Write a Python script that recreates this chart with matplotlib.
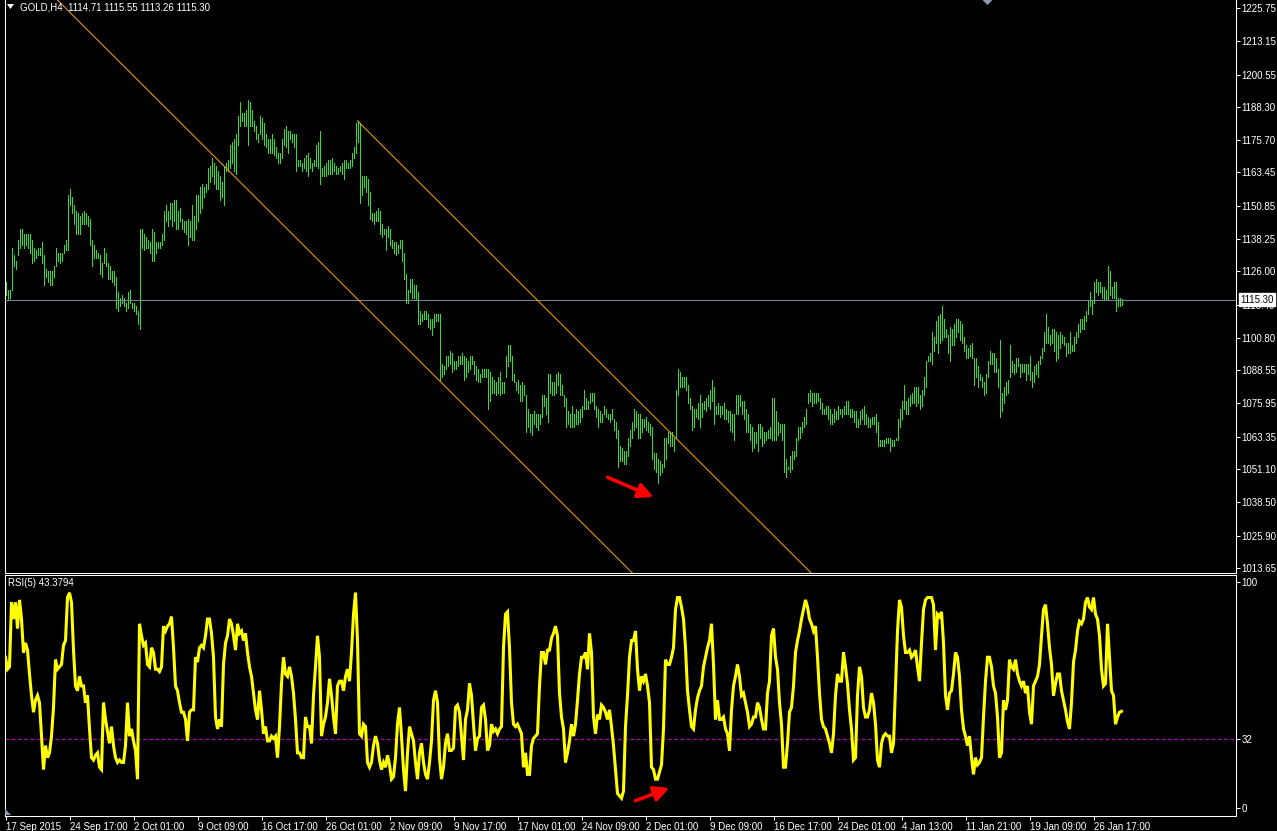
import matplotlib
matplotlib.use("Agg")
import matplotlib.pyplot as plt
import matplotlib.transforms as mtransforms
from matplotlib.patches import Polygon
import numpy as np

# ---------------- data ----------------
SYMBOL = "GOLD,H4"
LAST_OHLC = [1114.71, 1115.55, 1113.26, 1115.30]

HIGH = [
1122,1119,1119,1135,1132,1130,1138,1142,1142,1140,
1140,1140,1140,1138,1135,1134,1135,1135,1137,1132,
1127,1126,1126,1126,1128,1135,1133,1133,1133,1136,
1138,1155,1157,1154,1151,1149,1148,1147,1148,1149,
1148,1147,1146,1138,1136,1134,1133,1132,1129,1135,
1133,1129,1128,1126,1126,1124,1118,1116,1117,1116,
1114,1118,1119,1114,1114,1113,1111,1142,1142,1140,
1139,1138,1137,1142,1141,1137,1137,1137,1140,1149,
1151,1149,1152,1152,1153,1153,1149,1150,1146,1145,
1145,1146,1145,1151,1147,1155,1155,1158,1159,1158,
1159,1165,1166,1169,1167,1166,1164,1162,1160,1166,
1167,1168,1174,1175,1176,1178,1185,1190,1186,1186,
1187,1191,1190,1187,1183,1181,1178,1185,1184,1182,
1178,1176,1176,1178,1176,1173,1171,1171,1176,1180,
1181,1179,1179,1178,1178,1178,1168,1168,1167,1169,
1170,1171,1169,1167,1168,1174,1175,1179,1165,1166,
1167,1168,1168,1169,1167,1166,1165,1166,1167,1168,
1168,1167,1168,1171,1173,1182,1183,1182,1162,1162,
1162,1161,1156,1148,1148,1149,1150,1149,1144,1142,
1142,1143,1142,1138,1137,1137,1136,1138,1138,1133,
1125,1119,1123,1123,1121,1121,1118,1111,1110,1111,
1111,1110,1108,1108,1110,1110,1110,1110,1091,1090,
1094,1094,1096,1095,1092,1092,1094,1094,1095,1094,
1093,1092,1094,1094,1092,1090,1089,1087,1089,1089,
1089,1089,1088,1086,1085,1084,1086,1088,1084,1084,
1094,1098,1098,1094,1087,1084,1085,1083,1084,1083,
1079,1074,1072,1072,1073,1072,1072,1072,1079,1079,
1078,1087,1087,1084,1084,1087,1088,1087,1083,1079,
1078,1073,1072,1075,1072,1074,1073,1074,1075,1081,
1078,1077,1080,1080,1080,1075,1074,1073,1072,1075,
1074,1072,1072,1074,1070,1069,1066,1060,1059,1058,
1058,1063,1066,1069,1074,1073,1072,1072,1070,1070,
1071,1069,1068,1067,1057,1057,1055,1054,1053,1063,
1063,1065,1065,1065,1063,1081,1089,1088,1086,1086,
1086,1083,1078,1075,1074,1074,1076,1079,1076,1077,
1078,1079,1081,1085,1082,1075,1076,1075,1075,1076,
1074,1073,1073,1072,1072,1079,1079,1079,1077,1077,
1074,1072,1068,1067,1065,1065,1068,1068,1067,1065,
1065,1066,1067,1078,1078,1073,1069,1068,1068,1068,
1055,1052,1056,1058,1058,1063,1067,1067,1069,1071,
1074,1080,1081,1080,1080,1080,1080,1078,1076,1074,
1075,1075,1074,1072,1074,1073,1075,1074,1074,1075,
1077,1077,1074,1074,1073,1073,1070,1073,1074,1075,
1072,1071,1070,1071,1071,1072,1069,1062,1062,1062,
1063,1063,1063,1062,1062,1063,1070,1074,1077,1083,
1077,1078,1079,1080,1082,1082,1082,1079,1081,1086,
1092,1094,1095,1103,1101,1107,1109,1110,1113,1108,
1104,1102,1105,1104,1106,1108,1108,1107,1106,1101,
1098,1097,1098,1099,1093,1093,1090,1087,1086,1084,
1087,1092,1096,1095,1095,1093,1089,1100,1080,1082,
1084,1085,1098,1092,1091,1093,1093,1091,1091,1091,
1091,1091,1094,1088,1090,1091,1092,1094,1097,1103,
1110,1105,1102,1104,1104,1103,1102,1103,1102,1101,
1099,1099,1103,1098,1101,1103,1106,1108,1108,1109,
1111,1115,1118,1115,1122,1123,1122,1122,1120,1120,
1119,1128,1126,1120,1122,1122,1116,1116,1115.55,
]

LOW = [
1117,1115,1116,1119,1128,1127,1132,1135,1136,1135,
1136,1135,1133,1129,1130,1131,1132,1132,1129,1121,
1124,1122,1121,1121,1124,1128,1130,1129,1130,1133,
1134,1134,1151,1148,1144,1140,1140,1140,1144,1144,
1144,1143,1136,1128,1131,1131,1131,1125,1124,1129,
1128,1123,1123,1122,1121,1112,1111,1113,1114,1113,
1111,1112,1114,1112,1111,1110,1106,1104,1135,1134,
1135,1135,1133,1130,1130,1133,1135,1135,1136,1138,
1145,1143,1146,1143,1145,1142,1142,1145,1142,1141,
1140,1136,1139,1138,1138,1142,1145,1148,1150,1154,
1156,1157,1160,1162,1159,1157,1157,1153,1154,1151,
1164,1164,1165,1167,1164,1163,1174,1181,1183,1181,
1181,1174,1181,1181,1179,1176,1175,1178,1176,1174,
1173,1171,1171,1171,1170,1169,1167,1167,1169,1174,
1173,1171,1176,1175,1173,1164,1166,1166,1164,1165,
1164,1162,1165,1164,1166,1166,1165,1159,1162,1162,
1162,1163,1163,1163,1164,1163,1163,1164,1163,1161,
1165,1165,1165,1166,1169,1171,1175,1152,1155,1158,
1156,1151,1146,1145,1144,1145,1145,1140,1139,1140,
1134,1139,1136,1135,1133,1132,1133,1135,1130,1123,
1114,1114,1118,1116,1116,1115,1106,1106,1107,1108,
1108,1105,1104,1102,1105,1107,1107,1085,1086,1087,
1089,1090,1091,1088,1089,1089,1090,1091,1091,1085,
1086,1088,1089,1091,1087,1085,1084,1084,1086,1086,
1086,1074,1077,1080,1080,1079,1080,1079,1080,1080,
1086,1090,1092,1085,1084,1081,1080,1077,1077,1079,
1065,1067,1065,1064,1068,1067,1066,1068,1071,1075,
1072,1069,1080,1079,1079,1080,1083,1079,1079,1075,
1067,1068,1067,1067,1067,1068,1068,1069,1071,1074,
1074,1074,1076,1077,1074,1071,1067,1069,1069,1072,
1071,1070,1069,1070,1066,1063,1052,1054,1054,1053,
1053,1056,1060,1063,1066,1067,1063,1063,1065,1067,
1066,1065,1064,1055,1051,1050,1046,1049,1050,1052,
1055,1061,1060,1060,1058,1063,1079,1082,1082,1082,
1081,1076,1074,1066,1067,1071,1070,1067,1071,1074,
1073,1075,1074,1077,1068,1072,1072,1071,1072,1070,
1070,1069,1066,1065,1062,1072,1072,1075,1072,1070,
1065,1065,1062,1058,1059,1061,1058,1063,1060,1061,
1062,1063,1063,1062,1062,1062,1064,1065,1062,1050,
1048,1051,1050,1051,1055,1056,1062,1063,1065,1067,
1068,1076,1077,1075,1076,1076,1077,1074,1072,1072,
1072,1070,1068,1068,1069,1070,1070,1072,1071,1072,
1072,1072,1071,1071,1069,1067,1067,1068,1070,1068,
1068,1067,1067,1068,1068,1065,1060,1060,1060,1060,
1061,1061,1058,1060,1060,1062,1062,1067,1070,1074,
1072,1072,1075,1076,1076,1075,1076,1074,1075,1079,
1082,1092,1092,1091,1096,1099,1095,1099,1100,1101,
1101,1095,1092,1098,1098,1101,1103,1100,1099,1096,
1093,1093,1094,1093,1083,1086,1082,1085,1082,1079,
1080,1086,1091,1091,1088,1088,1082,1071,1073,1076,
1079,1080,1086,1088,1087,1088,1090,1086,1088,1088,
1085,1087,1085,1082,1084,1087,1086,1091,1093,1096,
1099,1099,1098,1099,1096,1092,1093,1097,1099,1098,
1094,1095,1095,1096,1096,1099,1101,1103,1104,1104,
1107,1110,1113,1110,1114,1118,1117,1118,1116,1115,
1115,1115,1117,1116,1116,1111,1113,1113,1113.26,
]

RSI = [
66,61,62,89,82,89,78,90,82,68,
72,69,59,50,43,48,50,47,33,19,
29,24,26,33,45,65,61,62,63,71,
73,91,93,89,69,54,52,58,54,54,
47,50,36,24,23,25,26,20,19,47,
40,35,30,37,29,24,22,23,22,22,
29,47,33,36,31,27,15,80,75,71,
72,63,62,70,68,61,61,60,62,79,
77,79,80,83,70,54,52,47,43,43,
40,31,43,44,44,66,64,70,71,70,
75,82,82,76,66,41,36,40,37,63,
72,75,82,80,75,69,80,76,77,73,
76,68,62,58,51,44,40,52,44,34,
37,31,31,33,32,33,24,37,55,66,
59,58,62,58,51,40,26,26,24,24,
41,37,37,30,50,62,75,66,33,38,
41,47,57,50,41,34,54,56,56,52,
58,61,56,68,84,93,73,34,33,38,
37,22,20,22,29,33,30,23,19,22,
20,25,21,15,16,24,38,45,33,19,
10,26,37,34,31,22,15,26,30,22,
17,15,22,31,48,52,47,24,15,20,
30,34,27,27,28,45,46,43,33,23,
40,44,55,50,38,27,32,33,45,46,
40,27,29,38,35,36,34,36,37,70,
84,85,70,47,38,37,38,36,34,20,
26,17,17,29,32,33,34,54,68,68,
63,69,69,74,76,79,75,51,41,36,
22,26,31,38,33,38,48,59,66,66,
68,61,76,68,41,34,42,40,46,45,
43,40,44,37,29,19,9,8,7,10,
37,50,66,73,73,77,61,52,58,56,
59,54,47,20,19,15,15,18,21,36,
65,63,63,66,70,86,91,91,87,82,
70,52,44,37,36,44,49,52,54,62,
66,70,73,80,63,40,48,40,40,41,
36,34,27,44,54,58,63,58,50,51,
47,43,37,38,41,41,47,45,40,36,
36,51,56,75,78,66,61,47,38,20,
20,30,43,45,54,68,73,77,82,86,
90,87,82,80,77,79,66,51,40,37,
36,33,30,26,34,50,59,56,56,68,
62,55,44,36,23,24,50,62,58,45,
41,41,44,51,47,38,23,20,30,33,
34,33,33,26,30,54,77,90,87,75,
68,68,69,66,67,69,62,56,72,86,
90,91,91,91,88,69,84,83,85,72,
50,44,51,52,59,68,66,58,44,36,
33,29,33,24,17,24,21,22,24,41,
56,66,66,62,54,51,41,24,26,48,
44,48,65,62,61,65,59,56,54,56,
51,54,43,38,54,56,58,63,75,86,
88,80,70,63,50,55,59,59,52,48,
44,39,36,47,64,69,77,81,80,82,
89,91,87,86,91,84,82,75,61,54,
55,80,66,52,50,38,41,43,43.3794,
]

PRICE_TICKS = [1225.75, 1213.15, 1200.55, 1188.30, 1175.70, 1163.45, 1150.85,
               1138.25, 1126.00, 1113.40, 1100.80, 1088.55, 1075.95, 1063.35,
               1051.10, 1038.50, 1025.90, 1013.65]
TIME_LABELS = ["17 Sep 2015", "24 Sep 17:00", "2 Oct 01:00", "9 Oct 09:00",
               "16 Oct 17:00", "26 Oct 01:00", "2 Nov 09:00", "9 Nov 17:00",
               "17 Nov 01:00", "24 Nov 09:00", "2 Dec 01:00", "9 Dec 09:00",
               "16 Dec 17:00", "24 Dec 01:00", "4 Jan 13:00", "11 Jan 21:00",
               "19 Jan 09:00", "26 Jan 17:00"]
TIME_LABEL_BARS = [0, 32, 64, 96, 128, 160, 192, 224, 256, 288, 320, 352,
                   384, 416, 448, 480, 512, 544]
RSI_PERIOD = 5
RSI_LEVEL = 32
RSI_LABELS = ["100", "32", "0"]

# channel (drawn trend objects) anchored at a bar high
CHANNEL_ANCHOR_BAR = 176
CHANNEL_SLOPE = -0.755      # price per bar
CHANNEL_WIDTH = 67.5        # price distance between the two lines
ARROW_PRICE = [(301.0, 1048.0), (324.0, 1040.5)]
ARROW_RSI = [(315.0, 6.0), (332.0, 11.3)]

# ---------------- styling / layout ----------------
plt.rcParams['font.family'] = ['Liberation Sans', 'DejaVu Sans']
BAR_COLOR = '#2ee02e'
FS = 7.0
W, H = 1277, 831
PX_PER_PRICE = 2.64
PRICE_AT_TOP = 1228.78
RSI_PX = 2.39

fig = plt.figure(figsize=(W / 100, H / 100), dpi=100)
fig.patch.set_facecolor('black')


def rect(x0, y0, x1, y1):
    return [x0 / W, 1 - y1 / H, (x1 - x0) / W, (y1 - y0) / H]


X_LEFT, X_RIGHT = 4.5, 1235.5
xlim = ((X_LEFT - 5.5) / 2.0, (X_RIGHT - 5.5) / 2.0)

# ---- price panel ----
P_TOP, P_BOT = -0.5, 572.5
ax = fig.add_axes(rect(X_LEFT, P_TOP, X_RIGHT, P_BOT))
ax.set_facecolor('black')
ax.set_xlim(*xlim)
ax.set_ylim(PRICE_AT_TOP - P_BOT / PX_PER_PRICE, PRICE_AT_TOP - P_TOP / PX_PER_PRICE)

n = min(len(HIGH), len(LOW))
xs = np.arange(n)
ax.vlines(xs, np.array(LOW[:n]), np.array(HIGH[:n]), colors=BAR_COLOR,
          linewidth=0.6, antialiased=False, zorder=2)

ax.axhline(LAST_OHLC[3], color='#778899', lw=0.72, zorder=3)

# channel lines
a_price = HIGH[CHANNEL_ANCHOR_BAR]
xu = np.array([CHANNEL_ANCHOR_BAR, xlim[1]])
ax.plot(xu, a_price + CHANNEL_SLOPE * (xu - CHANNEL_ANCHOR_BAR), color='#ffa500',
        lw=0.72, zorder=4)
xl = np.array([xlim[0], xlim[1]])
ax.plot(xl, a_price - CHANNEL_WIDTH + CHANNEL_SLOPE * (xl - CHANNEL_ANCHOR_BAR),
        color='#ffa500', lw=0.72, zorder=4)

ax.annotate('', xy=ARROW_PRICE[1], xytext=ARROW_PRICE[0],
            arrowprops=dict(arrowstyle='-|>,head_length=0.9,head_width=0.45',
                            color='#ff0000', lw=2.6, shrinkA=0, shrinkB=0),
            zorder=6)

for side in ['left', 'right', 'bottom']:
    ax.spines[side].set_color('white')
    ax.spines[side].set_linewidth(0.75)
ax.spines['top'].set_visible(False)
ax.set_xticks([])
ax.yaxis.tick_right()
ax.set_yticks(PRICE_TICKS)
ax.set_yticklabels([f"{v:.2f}" for v in PRICE_TICKS])
ax.tick_params(axis='y', colors='white', labelcolor='white', length=3,
               width=0.75, labelsize=FS, pad=1.5)

trans = mtransforms.blended_transform_factory(ax.transAxes, ax.transData) + \
    mtransforms.ScaledTranslation(5 / 100, 0, fig.dpi_scale_trans)
ax.text(1.0, LAST_OHLC[3], f"{LAST_OHLC[3]:.2f}", transform=trans, ha='left',
        va='center', color='black', fontsize=FS, clip_on=False, zorder=10,
        bbox=dict(boxstyle='square,pad=0.15', fc='white', ec='white'))

fig.text(20 / W, 1 - 7 / H,
         f"{SYMBOL}  " + " ".join(f"{v:.2f}" for v in LAST_OHLC),
         color='white', fontsize=FS, ha='left', va='center')
fig.add_artist(Polygon([[7 / W, 1 - 4 / H], [14 / W, 1 - 4 / H], [10.5 / W, 1 - 9 / H]],
                       closed=True, transform=fig.transFigure, fc='white', ec='none'))
fig.add_artist(Polygon([[982.5 / W, 1.0], [992.5 / W, 1.0], [987.5 / W, 1 - 5 / H]],
                       closed=True, transform=fig.transFigure, fc='#8a9cb0', ec='none'))

# ---- RSI panel ----
R_TOP, R_BOT = 574.5, 815.5
ax2 = fig.add_axes(rect(X_LEFT, R_TOP, X_RIGHT, R_BOT))
ax2.set_facecolor('black')
ax2.set_xlim(*xlim)
ax2.set_ylim((815 - R_BOT) / RSI_PX, (815 - R_TOP) / RSI_PX)
rx = np.arange(len(RSI))
ax2.plot(rx, RSI, color='#ffff00', lw=2.2, solid_joinstyle='miter', zorder=3)
ax2.axhline(RSI_LEVEL, color='#b000c0', lw=0.9, linestyle=(0, (3, 2)), zorder=2)
ax2.annotate('', xy=ARROW_RSI[1], xytext=ARROW_RSI[0],
             arrowprops=dict(arrowstyle='-|>,head_length=0.9,head_width=0.45',
                             color='#ff0000', lw=2.6, shrinkA=0, shrinkB=0),
             zorder=6)
for side in ['left', 'right', 'bottom', 'top']:
    ax2.spines[side].set_color('white')
    ax2.spines[side].set_linewidth(0.75)
ax2.yaxis.tick_right()
ax2.set_yticks([(815 - 582) / RSI_PX, RSI_LEVEL, (815 - 808) / RSI_PX])
ax2.set_yticklabels(RSI_LABELS)
ax2.tick_params(axis='y', colors='white', labelcolor='white', length=3,
                width=0.75, labelsize=FS, pad=1.5)
ax2.set_xticks(TIME_LABEL_BARS)
ax2.set_xticklabels(TIME_LABELS)
for lbl in ax2.get_xticklabels():
    lbl.set_horizontalalignment('left')
ax2.tick_params(axis='x', colors='white', labelcolor='white', length=3,
                width=0.75, labelsize=FS, pad=1.5)

fig.text(8 / W, 1 - 583 / H, f"RSI({RSI_PERIOD}) {RSI[-1]:.4f}", color='white',
         fontsize=FS, ha='left', va='center')
fig.add_artist(Polygon([[5 / W, 1 - 809 / H], [5 / W, 1 - 815 / H], [10.5 / W, 1 - 815 / H]],
                       closed=True, transform=fig.transFigure, fc='#8a9cb0', ec='none'))

fig.savefig('out.png', dpi=100, facecolor='black')
